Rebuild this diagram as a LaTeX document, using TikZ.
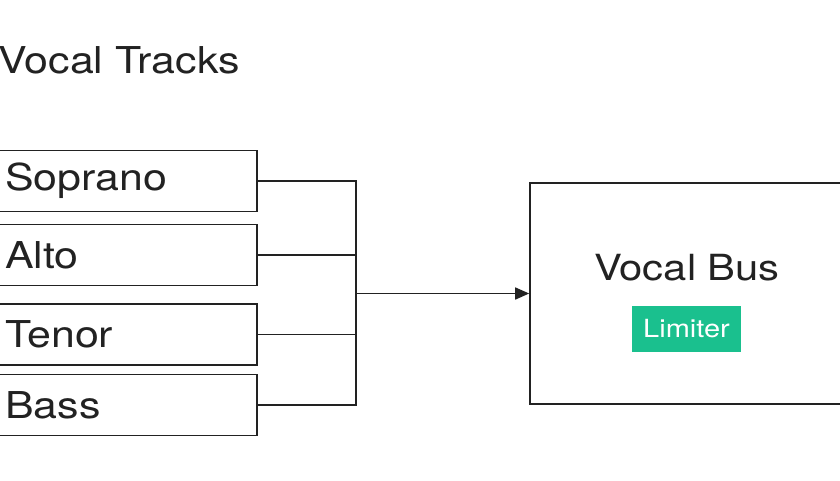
\documentclass[tikz,border=0pt]{standalone}
\usepackage{fontspec}
\setmainfont[FakeStretch=1.16]{TeX Gyre Heros}
\usetikzlibrary{positioning, arrows.meta}
\definecolor{limgreen}{RGB}{26,192,142}
\definecolor{ink}{RGB}{34,34,34}

\begin{document}
\begin{tikzpicture}[
      x=1pt, y=-1pt,
      >={Triangle[length=14pt, width=12pt]},
      track/.style={rectangle, draw=ink, line width=1.6pt, minimum width=264pt, minimum height=61pt,
        anchor=east, text width=240pt, align=left, inner xsep=12pt, font=\fontsize{37}{38}\selectfont, text=ink},
      bus/.style={rectangle, draw=ink, line width=1.6pt, minimum width=316pt, minimum height=221pt},
      fx/.style={rectangle, fill=limgreen, minimum width=109pt, minimum height=46pt,
        text=white, font=\fontsize{25}{26}\selectfont},
      wire/.style={line width=1.6pt, draw=ink},
      title/.style={anchor=base west, font=\fontsize{37}{40}\selectfont, text=ink}
    ]
    \useasboundingbox (0,0) rectangle (840,480);

    \node[title] (head) at (-5,73) {Vocal Tracks};

    \node[track] (sop) at (258,181) {Soprano};
    \node[track] (alto) at (258,255) {Alto};
    \node[track] (ten) at (258,334.5) {Tenor};
    \node[track] (bass) at (258,405) {Bass};

    \node[bus] (vbus) at (688,293.5) {};
    \node[font=\fontsize{36}{38}\selectfont, text=ink] (vlab) at (687,268) {Vocal Bus};
    \node[fx] (lim) at (686.5,329) {Limiter};

    \coordinate (merge) at (356,293.5);

    \draw[wire] (sop.east) -| (merge);
    \draw[wire] (alto.east) -| (merge);
    \draw[wire] (ten.east) -| (merge);
    \draw[wire] (bass.east) -| (merge);
    \draw[wire, ->] (merge) -- (vbus.west);
  \end{tikzpicture}
\end{document}
